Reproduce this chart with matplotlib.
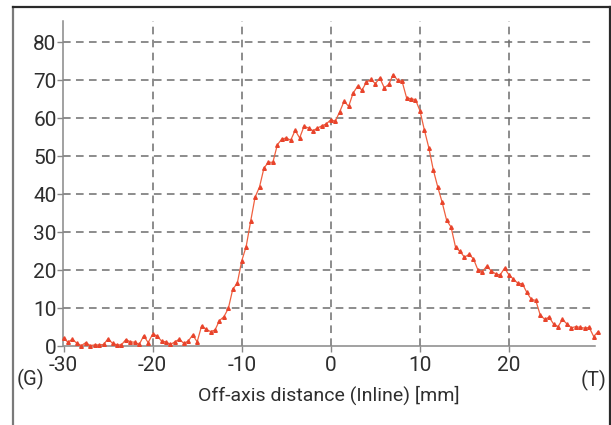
import numpy as np
import matplotlib
matplotlib.use('Agg')
import matplotlib.pyplot as plt
from matplotlib.lines import Line2D

# Off-axis profile, sampled every 0.5 mm from -30 to +30 mm
x_start, x_step = -30.0, 0.5
dose = [
    # -30 .. -12.5
    2.1, 1.0, 1.8, 0.7, 0.1, 0.9, 0.1, 0.3, 0.3, 0.4, 1.9, 0.7, 0.3, 0.3, 1.7, 1.1, 1.0, 0.4,
    2.7, 0.9, 3.1, 2.7, 1.3, 1.1, 0.4, 1.1, 1.8, 0.7, 1.3, 2.9, 1.1, 5.3, 4.4, 3.8, 4.2, 6.7,
    # -12 .. -9
    7.7, 9.9, 15.0, 16.5, 22.4, 26.2, 32.8,
    # -8.5 .. -0.5
    39.2, 41.9, 46.9, 48.4, 48.4, 53.0, 54.5, 54.8, 54.2, 56.8, 54.8, 57.9, 57.4, 56.7, 57.4,
    58.0, 58.5,
    # 0 .. 10
    59.6, 59.2, 61.7, 64.5, 63.1, 66.6, 68.4, 67.4, 69.5, 70.2, 69.1, 70.6, 68.0, 68.9, 71.5,
    70.0, 69.7, 65.4, 65.1, 64.9, 62.0,
    # 10.5 .. 20
    56.9, 52.2, 46.4, 41.9, 37.8, 33.1, 31.3, 26.0, 24.9, 23.4, 24.1, 23.0, 20.1, 19.6, 21.0,
    19.8, 19.0, 18.7, 20.5, 18.7,
    # 20.5 .. 30
    17.6, 16.5, 16.4, 14.1, 12.3, 12.0, 8.2, 7.0, 7.6, 5.8, 5.1, 7.0, 5.8, 4.8, 5.1, 4.9,
    4.7, 4.9, 2.5, 3.8,
]
xticks = [-30, -20, -10, 0, 10, 20]
yticks = [0, 10, 20, 30, 40, 50, 60, 70, 80]
xlabel = 'Off-axis distance (Inline) [mm]'
side_left, side_right = '(G)', '(T)'

pos = x_start + x_step * np.arange(len(dose))

plt.rcParams['font.family'] = ['Roboto', 'DejaVu Sans']
plt.rcParams['axes.unicode_minus'] = False
TXT = '#2e2e2e'

fig = plt.figure(figsize=(6.11, 4.25), dpi=100)
ax = fig.add_axes([63.5 / 611, 79 / 425, 531.5 / 611, 325 / 425])

line_col = '#f0603f'
ax.plot(pos, dose, '-', color=line_col, linewidth=0.9, marker='^', markersize=2.6,
        markerfacecolor='#e8442c', markeredgecolor='#e8442c', clip_on=False, zorder=3)

ax.set_xlim(-30, 29.65)
ax.set_ylim(0, 85.6)
ax.set_xticks(xticks)
ax.set_yticks(yticks)
ax.tick_params(axis='both', labelsize=15, labelcolor=TXT, color='#888888',
               length=4, width=1)
ax.tick_params(axis='x', pad=3)
ax.tick_params(axis='y', pad=1)

# dashed grid, skipping the lines that sit on the spines
grid_kw = dict(color='#6e6e6e', linewidth=1.1, linestyle=(0, (5, 3.5)), zorder=1)
for xv in xticks[1:]:
    ax.axvline(xv, **grid_kw)
for yv in yticks[1:]:
    ax.axhline(yv, **grid_kw)

for s in ['top', 'right']:
    ax.spines[s].set_visible(False)
for s in ['left', 'bottom']:
    ax.spines[s].set_color('#888888')
    ax.spines[s].set_linewidth(1.1)

fig.text(329 / 611, 1 - 395 / 425, xlabel, ha='center', va='center', fontsize=14, color=TXT)
fig.text(31 / 611, 1 - 379 / 425, side_left, ha='center', va='center', fontsize=14.5, color=TXT)
fig.text(594 / 611, 1 - 380 / 425, side_right, ha='center', va='center', fontsize=14.5, color=TXT)

# outer frame (left, top, right edges)
fx0, fx1, fy1 = 13 / 611, 610 / 611, 1 - 7 / 425
fig.add_artist(Line2D([fx0, fx0], [0, fy1], color='#7a7a7a', linewidth=1.6))
fig.add_artist(Line2D([fx0, fx1], [fy1, fy1], color='#2a2a2a', linewidth=1.6))
fig.add_artist(Line2D([fx1, fx1], [0, fy1], color='#2a2a2a', linewidth=1.6))

fig.savefig('out.png', dpi=100)
